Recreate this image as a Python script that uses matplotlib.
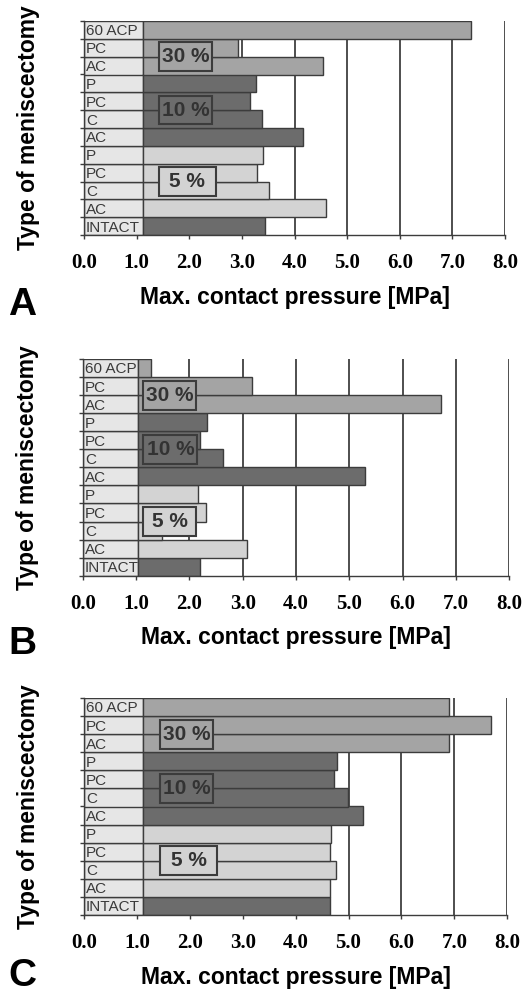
"""
max. contact pressure for different types of meniscectomy, three panels
"""

import numpy as np
import matplotlib.pyplot as plt
from matplotlib.patches import Rectangle

# categories from bottom to top
labels = ['INTACT', 'AC', 'C', 'PC', 'P', 'AC', 'C', 'PC', 'P', 'AC', 'PC', '60 ACP']
groups = ['intact', '5', '5', '5', '5', '10', '10', '10', '10', '30', '30', '30']

# max. contact pressure [MPa], same order as labels
pressure_a = [3.44, 4.60, 3.52, 3.29, 3.41, 4.16, 3.38, 3.16, 3.27, 4.54, 2.93, 7.36]
pressure_b = [2.20, 3.09, 1.49, 2.31, 2.16, 5.30, 2.64, 2.20, 2.34, 6.71, 3.18, 1.28]
pressure_c = [4.65, 4.65, 4.76, 4.65, 4.67, 5.27, 4.98, 4.73, 4.79, 6.90, 7.70, 6.90]

group_text = ['5 %', '10 %', '30 %']
group_y = [2.5, 6.5, 9.5]

colors = {'intact': '#6c6c6c', '5': '#d3d3d3', '10': '#6c6c6c', '30': '#a4a4a4'}
cell_color = '#e6e6e6'
edge = '#3c3c3c'

W, H = 522, 996
fig = plt.figure(figsize=(W / 100, H / 100), dpi=100)

# panel: (values, letter, [left, right, top, bottom] in px, bar start, box left, box widths, letter baseline)
panels = [
    (pressure_a, 'A', [84, 505, 21, 235], 1.12, 1.43, [1.07, 1.0, 1.0], 315),
    (pressure_b, 'B', [82.7, 509.3, 359, 575.7], 1.04, 1.14, [0.99, 1.01, 0.99], 654),
    (pressure_c, 'C', [84, 507.3, 698, 915], 1.12, 1.44, [1.08, 1.0, 1.0], 986),
]

y = np.arange(len(labels))

for values, letter, (l, r, t, b), start, box_left, box_w, letter_y in panels:
    ax = fig.add_axes([l / W, 1 - b / H, (r - l) / W, (b - t) / H])
    values = np.array(values)

    # label cells on the left
    ax.barh(y, start, left=0, height=1.0, color=cell_color,
            edgecolor=edge, linewidth=1.0, zorder=2)
    for yi, lab in zip(y, labels):
        ax.text(0.04, yi - 0.08, lab, fontsize=11, color='#3a3a3a',
                family='Liberation Sans', va='center', ha='left', zorder=3)

    # bars
    ax.barh(y, values - start, left=start, height=1.0,
            color=[colors[g] for g in groups], edgecolor=edge,
            linewidth=1.0, zorder=2)

    # group label boxes
    for txt, gy, bw, g in zip(group_text, group_y, box_w, ['5', '10', '30']):
        ax.add_patch(Rectangle((box_left, gy - 0.8), bw, 1.6,
                               facecolor=colors[g], edgecolor=edge,
                               linewidth=1.5, zorder=4))
        ax.text(box_left + bw / 2, gy, txt, fontsize=15, fontweight='bold',
                color='#333333', family='Liberation Sans',
                ha='center', va='center', zorder=5)

    ax.set_xlim(0, 8)
    ax.set_ylim(-0.5, 11.5)
    ax.set_xticks(np.arange(0, 9))
    ax.set_xticklabels(['%.1f' % v for v in np.arange(0, 9)],
                       fontsize=15, fontweight='bold', family='Liberation Serif')
    ax.set_yticks(np.arange(-0.5, 12, 1))
    ax.set_yticklabels([])
    ax.tick_params(axis='x', direction='out', length=3, width=1, pad=10, color=edge)
    ax.tick_params(axis='y', direction='out', length=3, width=1, color=edge)

    ax.grid(axis='x', color='#303030', linewidth=1.2)
    ax.set_axisbelow(True)
    for s in ['top', 'right']:
        ax.spines[s].set_visible(False)
    for s in ['left', 'bottom']:
        ax.spines[s].set_color(edge)
        ax.spines[s].set_linewidth(1.0)

    ax.set_xlabel('Max. contact pressure [MPa]', fontsize=16.5, fontweight='bold',
                  family='Liberation Sans', labelpad=9)
    ax.set_ylabel('Type of meniscectomy', fontsize=16.5, fontweight='bold',
                  family='Liberation Sans', labelpad=25)

    fig.text(22 / W, 1 - letter_y / H, letter, fontsize=28, fontweight='bold',
             family='Liberation Sans', ha='center', va='baseline')

fig.savefig('out.png', dpi=100)
